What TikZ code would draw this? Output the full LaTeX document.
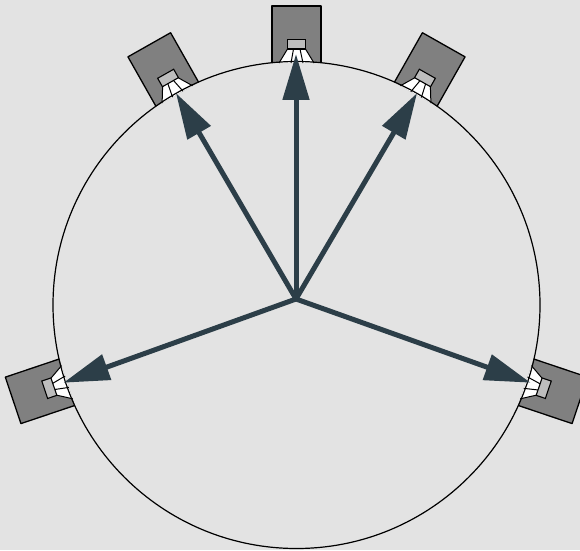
\documentclass[tikz,border=0pt]{standalone}
\usetikzlibrary{arrows.meta}
\definecolor{bg}{HTML}{E3E3E3}
\definecolor{boxgrey}{HTML}{808080}
\definecolor{drvgrey}{HTML}{BDBDBD}
\definecolor{arrowc}{HTML}{2C3E48}
\tikzset{
  speakerbox/.style={draw=black,line width=1.3pt,line join=round},
  driver/.style={draw=black,line width=1.1pt,fill=drvgrey},
  conefill/.style={fill=white},
  conediv/.style={draw=black,line width=1pt},
  ray/.style={draw=arrowc,line width=5pt,shorten >=-8pt,-{Triangle[length=46pt,width=26pt,sep=0pt]}},
  rim/.style={draw=black,line width=1.2pt},
  speakerunit/.pic={
    \fill[boxgrey] (-24.5,242) rectangle (24.5,299);
    \path[speakerbox] (-24.5,242) -- (-24.5,299) -- (24.5,299) -- (24.5,242);
    \path[conefill] (-9,256) -- (9,256) -- (17.5,242) -- (-17.5,242) -- cycle;
    \draw[conediv] (-9,256) -- (-17.5,242) (9,256) -- (17.5,242) (-3,256) -- (-5.5,242) (3.5,256) -- (6.5,242);
    \path[driver] (-9.2,256) rectangle (9.2,265.7);
  }
}
\begin{document}
\begin{tikzpicture}[x=1pt,y=1pt]
\clip (0,0) rectangle (580,550);
\fill[bg] (0,0) rectangle (580,550);
\coordinate (c) at (296.5,245);
\coordinate (o) at (296,251);
\foreach \a in {0,29.5,-29.5,108.6,-108.6} { \pic[rotate=\a] at (c) {speakerunit}; }
\node[rim,circle,minimum size=487pt,inner sep=0pt,fill=none] (rimc) at (c) {};
\coordinate (t0) at (296,488);
\coordinate (t1) at (180,450);
\coordinate (t2) at (413,450);
\coordinate (t3) at (71,170);
\coordinate (t4) at (523,170);
\foreach \t in {t0,t1,t2,t3,t4} { \draw[ray] (o) -- (\t); }
\end{tikzpicture}
\end{document}
